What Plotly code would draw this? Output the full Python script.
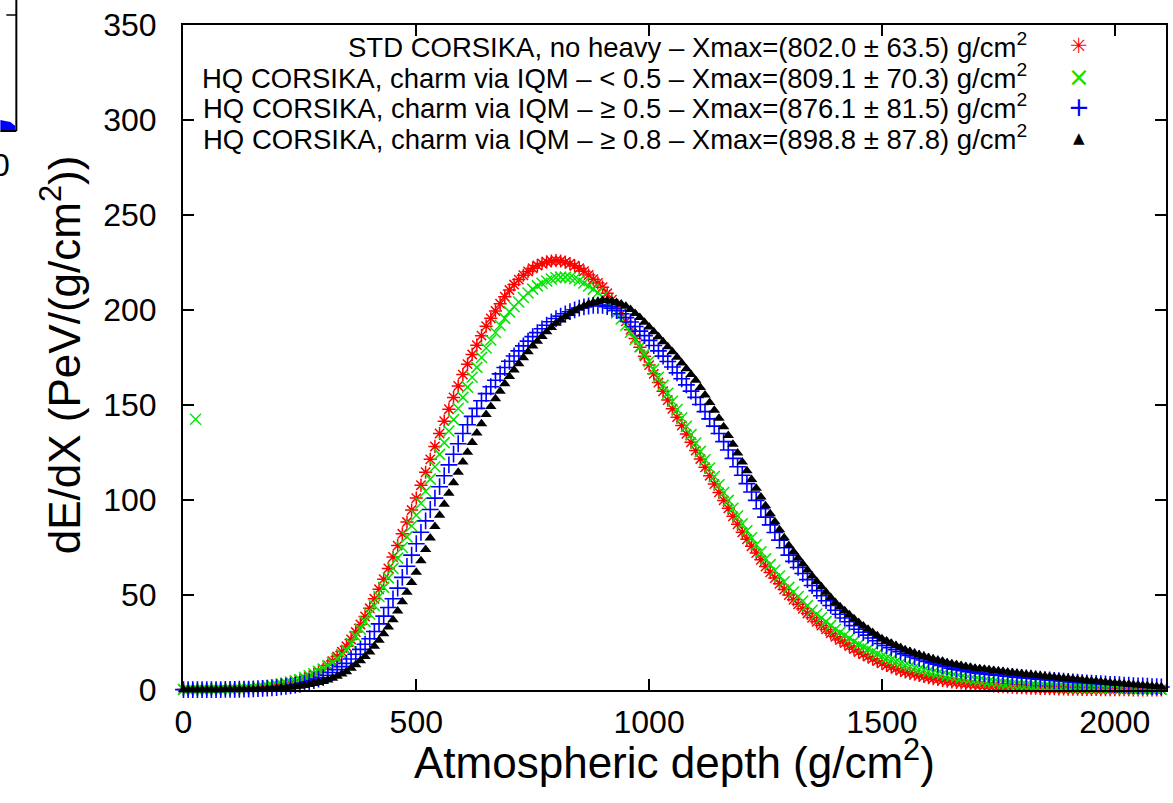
import plotly.graph_objects as go

# Atmospheric depth grid (g/cm^2)
depth = list(range(0, 2101, 10))

std_no_heavy = [
    0.3, 0.3, 0.3, 0.3, 0.3, 0.3, 0.35, 0.4, 0.4, 0.45, 0.5,
    0.55, 0.6, 0.7, 0.85, 1.0, 1.2, 1.5, 1.8, 2.1, 2.5,
    2.9, 3.3, 3.8, 4.4, 5.0, 5.9, 6.9, 8.1, 9.5, 11,
    13, 15.2, 17.6, 20.2, 23, 26.6, 30.5, 34.5, 38.7, 43,
    48, 53, 58.3, 64, 70, 76, 82.2, 88.4, 94.7, 101,
    107.8, 114.6, 121.4, 128.2, 135, 141.5, 147.8, 154, 160, 166,
    171.5, 176.6, 181.5, 186.5, 191.5, 195.6, 199.5, 203.3, 207, 210.5,
    213.4, 216, 218.3, 220.3, 222, 223.4, 224.5, 225.3, 225.8, 226,
    225.8, 225.2, 224.4, 223.3, 222, 220.4, 218.4, 216.2, 214.2, 212,
    208.8, 205.4, 201.8, 198, 194, 189.6, 185, 180.4, 175.7, 171,
    166.4, 161.8, 157.2, 152.6, 148, 143.6, 139.2, 134.8, 130.4, 126,
    121.6, 117.2, 112.8, 108.4, 104, 99.8, 95.6, 91.4, 87.2, 83,
    79.3, 75.7, 72.1, 68.5, 65, 61.9, 58.9, 55.9, 52.9, 50,
    47.5, 45.1, 42.7, 40.3, 38, 35.9, 33.9, 31.9, 29.9, 28,
    26.3, 24.7, 23.1, 21.5, 20, 18.8, 17.6, 16.4, 15.2, 14,
    13, 12.1, 11.2, 10.3, 9.5, 8.9, 8.3, 7.7, 7.1, 6.5,
    6.0, 5.6, 5.1, 4.7, 4.3, 4.0, 3.7, 3.4, 3.2, 2.9,
    2.7, 2.5, 2.3, 2.1, 1.9, 1.8, 1.6, 1.5, 1.3, 1.2,
    1.1, 1.0, 0.95, 0.9, 0.8, 0.75, 0.7, 0.6, 0.55, 0.5,
    0.45, 0.4, 0.35, 0.3, 0.3, 0.3, 0.25, 0.2, 0.2, 0.2,
    0.2, 0.15, 0.15, 0.1, 0.1, 0.1, 0.1, 0.1, 0.1, 0.1,
]

hq_lt05 = [
    0.3, 0.3, 0.3, 0.35, 0.4, 0.4, 0.45, 0.5, 0.5, 0.55, 0.6,
    0.7, 0.8, 0.9, 1.05, 1.2, 1.45, 1.7, 2.0, 2.4, 2.8,
    3.2, 3.7, 4.2, 4.8, 5.5, 6.5, 7.5, 8.6, 9.8, 11,
    12.7, 14.5, 16.5, 18.7, 21, 24.5, 28.3, 32, 36, 40,
    44.5, 49.2, 54, 59, 64, 69.4, 75, 80.6, 86.3, 92,
    98.3, 104.6, 111, 117.5, 124, 130.2, 136.3, 142.3, 148.2, 154,
    159.4, 164.6, 169.8, 175, 180, 184.2, 188.2, 192, 195.6, 199,
    201.7, 204.2, 206.6, 208.9, 211, 212.7, 214.1, 215.3, 216.3, 217,
    217.3, 217.3, 217, 216.4, 215.5, 214.2, 212.6, 211, 209.1, 207,
    204.2, 201.3, 198.4, 195.3, 192, 188.3, 184.5, 180.7, 176.9, 173,
    168.8, 164.6, 160.4, 156.2, 152, 147.6, 143.2, 138.8, 134.4, 130,
    125.6, 121.2, 116.8, 112.4, 108, 103.9, 99.8, 95.7, 91.6, 87.5,
    83.8, 80.1, 76.4, 72.7, 69, 66, 63, 60, 57, 54,
    51.6, 49.2, 46.8, 44.4, 42, 40, 38, 36, 34, 32,
    30.4, 28.8, 27.2, 25.6, 24, 22.8, 21.5, 20.3, 19, 17.8,
    16.9, 15.9, 15, 14.1, 13.2, 12.5, 11.8, 11.1, 10.5, 9.8,
    9.3, 8.8, 8.3, 7.8, 7.3, 6.9, 6.5, 6.1, 5.8, 5.4,
    5.1, 4.8, 4.5, 4.2, 3.9, 3.7, 3.5, 3.2, 3.0, 2.8,
    2.7, 2.5, 2.4, 2.2, 2.1, 2.0, 1.9, 1.8, 1.7, 1.6,
    1.5, 1.4, 1.35, 1.3, 1.2, 1.15, 1.1, 1.0, 0.95, 0.9,
    0.85, 0.8, 0.7, 0.65, 0.6, 0.55, 0.5, 0.5, 0.45, 0.4,
]
hq_lt05_outlier_x = [26]
hq_lt05_outlier_y = [142.5]

hq_ge05 = [
    0.2, 0.2, 0.2, 0.2, 0.2, 0.2, 0.2, 0.25, 0.25, 0.3, 0.3,
    0.35, 0.4, 0.45, 0.5, 0.6, 0.7, 0.85, 1.0, 1.15, 1.3,
    1.6, 1.9, 2.2, 2.6, 3.0, 3.6, 4.3, 5.0, 5.7, 6.5,
    7.8, 9.2, 10.7, 12.3, 14, 16.3, 18.8, 21.4, 24.1, 27,
    30.8, 34.8, 38.9, 43.4, 48, 53.6, 59.3, 65.1, 71, 77,
    83, 89, 95, 101, 107, 112.8, 118.5, 124.1, 129.6, 135,
    139.6, 144, 148.2, 152.2, 156, 159.6, 163, 166.4, 169.7, 173,
    175.8, 178.5, 181.1, 183.6, 186, 188.1, 190.1, 192, 193.8, 195.5,
    196.8, 198, 199.1, 200.1, 201, 201.6, 202.1, 202.4, 202.5, 202.5,
    201.8, 200.9, 199.7, 198, 196, 193.7, 191.3, 188.9, 186.5, 184,
    181.3, 178.5, 175.7, 172.9, 170, 166.9, 163.8, 160.6, 157.3, 154,
    150.3, 146.5, 142.7, 138.9, 135, 130.7, 126.3, 121.9, 117.5, 113,
    108.6, 104.2, 99.8, 95.4, 91, 86.9, 82.9, 78.9, 74.9, 71,
    67.7, 64.5, 61.3, 58.1, 55, 52.3, 49.6, 47, 44.5, 42,
    39.9, 37.9, 35.9, 33.9, 32, 30.4, 28.9, 27.4, 25.9, 24.5,
    23.4, 22.3, 21.2, 20.1, 19, 18.2, 17.4, 16.6, 15.8, 15,
    14.3, 13.6, 12.9, 12.2, 11.5, 11, 10.5, 10.1, 9.6, 9.2,
    8.9, 8.6, 8.3, 8.1, 7.8, 7.6, 7.3, 7.1, 6.8, 6.6,
    6.4, 6.2, 5.9, 5.7, 5.5, 5.3, 5.1, 4.9, 4.7, 4.5,
    4.3, 4.1, 3.9, 3.8, 3.6, 3.5, 3.3, 3.2, 3.0, 2.9,
    2.8, 2.6, 2.5, 2.3, 2.2, 2.1, 2.0, 1.8, 1.7, 1.6,
]

hq_ge08 = [
    0.1, 0.1, 0.1, 0.1, 0.1, 0.1, 0.1, 0.15, 0.15, 0.2, 0.2,
    0.2, 0.2, 0.25, 0.3, 0.3, 0.35, 0.45, 0.55, 0.65, 0.8,
    1.0, 1.2, 1.45, 1.7, 2.0, 2.4, 2.9, 3.4, 3.9, 4.5,
    5.3, 6.2, 7.2, 8.4, 9.6, 11.4, 13.3, 15.4, 17.6, 20,
    23, 26.2, 29.6, 33.2, 37, 41.6, 46.4, 51.4, 56.6, 62,
    68, 74, 80, 86, 92, 97.8, 103.5, 109.1, 114.6, 120,
    125.1, 130.2, 135.2, 140.1, 145, 149.2, 153.3, 157.3, 161.2, 165,
    168.4, 171.7, 174.9, 178, 181, 183.6, 186.1, 188.5, 190.8, 193,
    194.8, 196.5, 198.1, 199.6, 201, 202.1, 203.1, 203.9, 204.5, 205,
    205, 204.6, 204, 203.1, 202, 200.2, 198.2, 196, 193.6, 191,
    188.5, 185.9, 183.3, 180.7, 178, 175.1, 172.1, 169.1, 166.1, 163,
    159.2, 155.3, 151.3, 147.2, 143, 138.5, 133.9, 129.3, 124.7, 120,
    115.4, 110.8, 106.2, 101.6, 97, 92.7, 88.5, 84.3, 80.1, 76,
    72.7, 69.5, 66.3, 63.1, 60, 57.1, 54.3, 51.5, 48.7, 46,
    43.8, 41.7, 39.6, 37.5, 35.5, 33.7, 32, 30.3, 28.6, 27,
    25.8, 24.6, 23.4, 22.2, 21, 20.2, 19.4, 18.6, 17.8, 17,
    16.3, 15.7, 15.1, 14.4, 13.8, 13.3, 12.9, 12.4, 12, 11.5,
    11.2, 10.9, 10.6, 10.3, 10, 9.7, 9.4, 9.1, 8.8, 8.5,
    8.2, 8, 7.7, 7.5, 7.2, 7, 6.7, 6.5, 6.2, 6,
    5.8, 5.5, 5.3, 5, 4.8, 4.6, 4.3, 4.1, 3.8, 3.6,
    3.4, 3.2, 3.0, 2.8, 2.6, 2.4, 2.2, 2.0, 1.8, 1.6,
]

legend_labels = [
    "STD CORSIKA, no heavy \u2013 Xmax=(802.0 \u00b1 63.5) g/cm<sup>2</sup>",
    "HQ CORSIKA, charm via IQM \u2013 &lt; 0.5 \u2013 Xmax=(809.1 \u00b1 70.3) g/cm<sup>2</sup>",
    "HQ CORSIKA, charm via IQM \u2013 \u2265 0.5 \u2013 Xmax=(876.1 \u00b1 81.5) g/cm<sup>2</sup>",
    "HQ CORSIKA, charm via IQM \u2013 \u2265 0.8 \u2013 Xmax=(898.8 \u00b1 87.8) g/cm<sup>2</sup>",
]
colors = ["#ff0000", "#00e600", "#0000ff", "#000000"]
legend_glyphs = ["\u2733", "\u00d7", "+", "\u25b2"]
legend_glyph_sizes = [21, 26, 26, 15]

x_ticks = [0, 500, 1000, 1500, 2000]
y_ticks = [0, 50, 100, 150, 200, 250, 300, 350]

FONT = "Liberation Sans, Arial, Helvetica, sans-serif"

fig = go.Figure()
fig.add_trace(go.Scatter(
    x=depth, y=std_no_heavy, mode="markers", cliponaxis=False, showlegend=False,
    marker=dict(symbol="asterisk-open", size=11, color=colors[0],
                line=dict(width=1.5, color=colors[0]))))
fig.add_trace(go.Scatter(
    x=depth, y=hq_lt05, mode="markers", cliponaxis=False, showlegend=False,
    marker=dict(symbol="x-thin-open", size=11, color=colors[1],
                line=dict(width=1.5, color=colors[1]))))
fig.add_trace(go.Scatter(
    x=hq_lt05_outlier_x, y=hq_lt05_outlier_y, mode="markers", cliponaxis=False, showlegend=False,
    marker=dict(symbol="x-thin-open", size=11, color=colors[1],
                line=dict(width=1.3, color=colors[1]))))
fig.add_trace(go.Scatter(
    x=depth, y=hq_ge05, mode="markers", cliponaxis=False, showlegend=False,
    marker=dict(symbol="cross-thin-open", size=12, color=colors[2],
                line=dict(width=1.6, color=colors[2]))))
fig.add_trace(go.Scatter(
    x=depth, y=hq_ge08, mode="markers", cliponaxis=False, showlegend=False,
    marker=dict(symbol="triangle-up", size=10, color=colors[3],
                line=dict(width=0))))

L, R, T, B = 183, 5, 25, 113
W, H = 1173, 803
pw, ph = W - L - R, H - T - B


def px2paper(px, py):
    return (px - L) / pw, (H - B - py) / ph


annotations = []
row_y = [46, 77, 107, 138]
for i, (lab, col, gl) in enumerate(zip(legend_labels, colors, legend_glyphs)):
    tx, ty = px2paper(1031, row_y[i])
    annotations.append(dict(text=lab, x=tx, y=ty, xref="paper", yref="paper",
                            xanchor="right", yanchor="middle", showarrow=False,
                            font=dict(family=FONT, size=27.5, color="black")))
    gx, gy = px2paper(1081, row_y[i])
    annotations.append(dict(text=gl, x=gx, y=gy, xref="paper", yref="paper",
                            xanchor="center", yanchor="middle", showarrow=False,
                            font=dict(family="DejaVu Sans", size=legend_glyph_sizes[i], color=col)))

# axis titles
tx, ty = px2paper(675, 760)
annotations.append(dict(text="Atmospheric depth (g/cm<sup>2</sup>)", x=tx, y=ty,
                        xref="paper", yref="paper", xanchor="center", yanchor="middle",
                        showarrow=False, font=dict(family=FONT, size=44, color="black")))
tx, ty = px2paper(60, 355)
annotations.append(dict(text="dE/dX (PeV/(g/cm<sup>2</sup>))", x=tx, y=ty, textangle=-90,
                        xref="paper", yref="paper", xanchor="center", yanchor="middle",
                        showarrow=False, font=dict(family=FONT, size=44, color="black")))

# fragment of the neighbouring panel at the left edge
zx, zy = px2paper(1, 165)
annotations.append(dict(text="0", x=zx, y=zy, xref="paper", yref="paper",
                        xanchor="center", yanchor="middle", showarrow=False,
                        font=dict(family=FONT, size=32, color="black")))
shapes = []
a = px2paper(16, 0); b = px2paper(16, 131)
shapes.append(dict(type="line", xref="paper", yref="paper", x0=a[0], y0=a[1], x1=b[0], y1=b[1],
                   line=dict(color="black", width=2)))
a = px2paper(0, 131); b = px2paper(16, 131)
shapes.append(dict(type="line", xref="paper", yref="paper", x0=a[0], y0=a[1], x1=b[0], y1=b[1],
                   line=dict(color="black", width=2)))
a = px2paper(6, 15); b = px2paper(16, 15)
shapes.append(dict(type="line", xref="paper", yref="paper", x0=a[0], y0=a[1], x1=b[0], y1=b[1],
                   line=dict(color="black", width=1.5)))
p1 = px2paper(0, 120); p2 = px2paper(10, 122); p3 = px2paper(15, 126); p4 = px2paper(15, 130); p5 = px2paper(0, 130)
shapes.append(dict(type="path", xref="paper", yref="paper",
                   path=f"M {p1[0]},{p1[1]} L {p2[0]},{p2[1]} L {p3[0]},{p3[1]} L {p4[0]},{p4[1]} L {p5[0]},{p5[1]} Z",
                   fillcolor="#0000ff", line=dict(width=0)))

fig.update_layout(
    width=W, height=H,
    margin=dict(l=L, r=R, t=T, b=B),
    paper_bgcolor="white", plot_bgcolor="white",
    font=dict(family=FONT, size=32, color="black"),
    annotations=annotations, shapes=shapes,
    xaxis=dict(range=[-1, 2110], tickvals=x_ticks, ticks="inside", ticklen=11,
               tickwidth=1.5, tickcolor="black", mirror="allticks", showline=True,
               linecolor="black", linewidth=2, showgrid=False, zeroline=False,
               ticklabelstandoff=3,
               tickfont=dict(family=FONT, size=32)),
    yaxis=dict(range=[0, 350], tickvals=y_ticks, ticks="inside", ticklen=11,
               tickwidth=1.5, tickcolor="black", mirror="allticks", showline=True,
               linecolor="black", linewidth=2, showgrid=False, zeroline=False,
               ticklabelstandoff=18,
               tickfont=dict(family=FONT, size=32)),
)

fig.write_html("out.html")
